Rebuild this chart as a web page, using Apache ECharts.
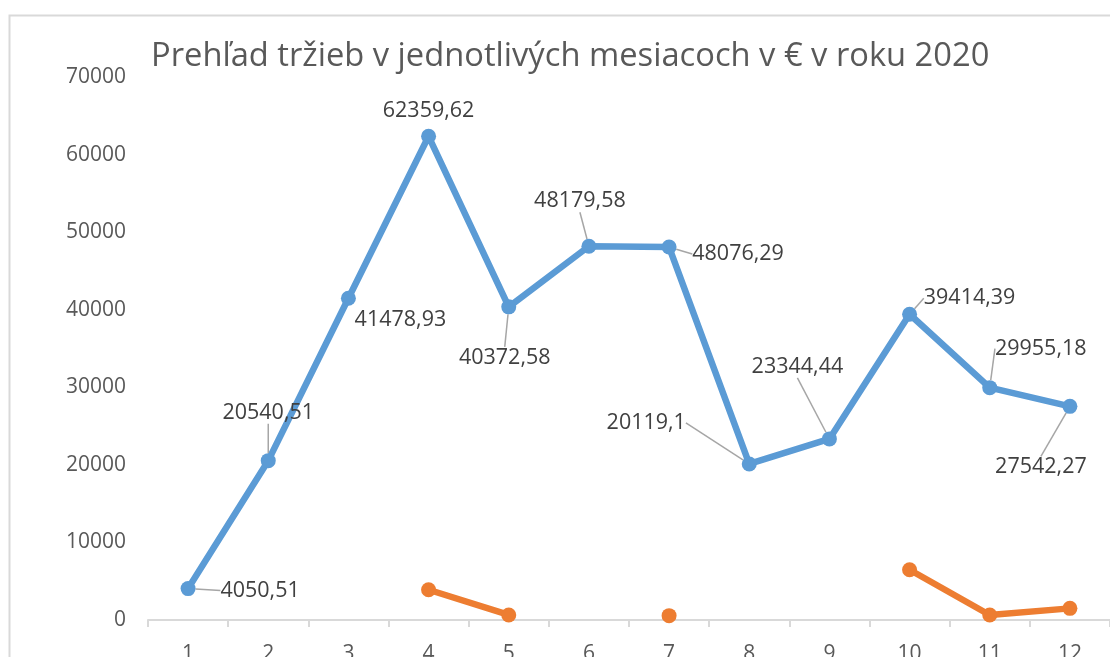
<!DOCTYPE html>
<html>
<head>
<meta charset="utf-8">
<script src="https://cdn.jsdelivr.net/npm/echarts@6/dist/echarts.min.js"></script>
<style>
html,body{margin:0;padding:0;background:#fff;}
#chart{width:1110px;height:657px;}
</style>
</head>
<body>
<div id="chart"></div>
<script>
// ---- data ----
var titleText = 'Prehľad tržieb v jednotlivých mesiacoch v € v roku 2020';
var months = ['1','2','3','4','5','6','7','8','9','10','11','12'];
var salesA = [4050.51, 20540.51, 41478.93, 62359.62, 40372.58, 48179.58, 48076.29, 20119.1, 23344.44, 39414.39, 29955.18, 27542.27];
var salesB = [null, null, null, 3900, 650, null, 560, null, null, 6480, 650, 1500];

// ---- label layout (pixel offsets of label centre from its point) ----
var labelDx = [72, 0, 52, 0, -4, -9, 69, -103, -32, 60, 51, -29];
var labelDy = [2, -48, 22, -25, 51, -45, 7, -41, -72, -16, -39, 61];
var leader = [true, true, false, false, true, true, true, true, true, true, true, true];

var FONT = '"Open Sans", sans-serif';
var chart = echarts.init(document.getElementById('chart'));

function fmt(v){ return String(v).replace('.', ','); }

var option = {
  animation: false,
  backgroundColor: '#ffffff',
  title: {
    text: titleText,
    left: 146, top: 35,
    textStyle: {fontFamily: FONT, fontSize: 32.7, fontWeight: 'normal', color: '#595959'}
  },
  graphic: [{
    type: 'rect', silent: true, z: -10,
    shape: {x: 9.5, y: 15.5, width: 1300, height: 900},
    style: {fill: 'none', stroke: '#d9d9d9', lineWidth: 2}
  }],
  grid: {left: 148, right: 0, top: 77, bottom: 37, containLabel: false, outerBoundsMode: 'none'},
  xAxis: {
    type: 'category', data: months, boundaryGap: true,
    axisLine: {lineStyle: {color: '#d9d9d9', width: 2}},
    axisTick: {show: true, length: 7, lineStyle: {color: '#d9d9d9', width: 2}},
    axisLabel: {fontFamily: FONT, fontSize: 21, color: '#595959', margin: 24},
    splitLine: {show: false}
  },
  yAxis: {
    type: 'value', min: 0, max: 70000, interval: 10000,
    axisLine: {show: false}, axisTick: {show: false},
    splitLine: {show: false},
    axisLabel: {fontFamily: FONT, fontSize: 21, color: '#595959', margin: 22,
      formatter: function(v){ return String(v); }}
  },
  series: [{
    type: 'line',
    data: salesA.map(function(v, i){
      return {value: v, labelLine: {show: leader[i]}};
    }),
    symbol: 'circle', symbolSize: 15, showAllSymbol: true,
    lineStyle: {color: '#5b9bd5', width: 6.5},
    itemStyle: {color: '#5b9bd5'},
    label: {
      show: true, position: 'inside',
      fontFamily: FONT, fontSize: 21.5, color: '#404040',
      formatter: function(p){ return fmt(p.value); }
    },
    labelLine: {show: true, lineStyle: {color: '#a6a6a6', width: 1.5}},
    labelLayout: function(p){
      return {dx: labelDx[p.dataIndex], dy: labelDy[p.dataIndex]};
    },
    z: 3
  }, {
    type: 'line',
    data: salesB,
    connectNulls: false,
    symbol: 'circle', symbolSize: 15, showAllSymbol: true,
    lineStyle: {color: '#ed7d31', width: 6.5},
    itemStyle: {color: '#ed7d31'},
    z: 2
  }]
};
chart.setOption(option);
</script>
</body>
</html>
